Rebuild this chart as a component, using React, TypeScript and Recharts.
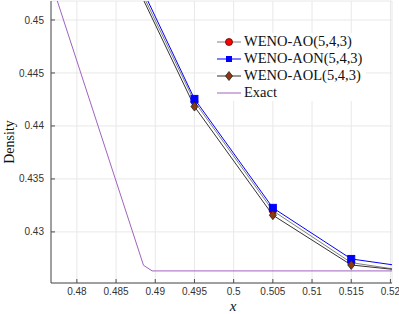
import { CartesianGrid, Line, LineChart, XAxis, YAxis } from "recharts";

// cell centres of the numerical schemes
const GRID_X = [0.485, 0.495, 0.505, 0.515, 0.525];
const AO = [0.4576, 0.4423, 0.432, 0.4271, 0.426];
const AON = [0.4581, 0.44255, 0.43227, 0.42745, 0.4264];
const AOL = [0.4573, 0.44183, 0.43158, 0.42688, 0.4261];

const EXACT_X = [0.4765, 0.4885, 0.4896, 0.525];
const EXACT = [0.45407, 0.42685, 0.42632, 0.42632];

const X_TICKS = [0.48, 0.485, 0.49, 0.495, 0.5, 0.505, 0.51, 0.515, 0.52];
const Y_TICKS = [0.43, 0.435, 0.44, 0.445, 0.45];
const X_DOMAIN = [0.4767, 0.5202];
const Y_DOMAIN = [0.42518, 0.45179];

const AXIS_COLOR = "#4d4d4d";
const TICK_TEXT = "#333";
const GRID = "#e8e8e8";
const SERIF = "'Liberation Serif', 'DejaVu Serif', serif";
const SANS = "'Liberation Sans', Arial, sans-serif";

const pts = (xs: number[], ys: number[]) => xs.map((x, i) => ({ x, y: ys[i] }));
const fmt = (v: number) => String(Number(v.toFixed(3)));

const BottomTick = (p: any) => (
  <g>
    <line x1={p.x} x2={p.x} y1={p.y} y2={p.y - 4} stroke={AXIS_COLOR} />
    <text x={p.x} y={p.y + 5} dy="0.71em" textAnchor="middle" fontSize={10} fill={TICK_TEXT} fontFamily={SANS}>
      {fmt(p.payload.value)}
    </text>
  </g>
);
const TopTick = (p: any) => <line x1={p.x} x2={p.x} y1={p.y} y2={p.y + 4} stroke={AXIS_COLOR} />;
const LeftTick = (p: any) => (
  <g>
    <line x1={p.x} x2={p.x + 4} y1={p.y} y2={p.y} stroke={AXIS_COLOR} />
    <text x={p.x - 7} y={p.y} dy="0.355em" textAnchor="end" fontSize={10} fill={TICK_TEXT} fontFamily={SANS}>
      {fmt(p.payload.value)}
    </text>
  </g>
);
const RightTick = (p: any) => <line x1={p.x} x2={p.x - 4} y1={p.y} y2={p.y} stroke={AXIS_COLOR} />;

const Square = (p: any) =>
  p.cx == null ? <g key={p.key} /> : (
    <rect key={`sq-${p.index}`} x={p.cx - 3.5} y={p.cy - 3.5} width={7} height={7} fill="#0000ff" stroke="#0000ff" />
  );
const Diamond = (p: any) =>
  p.cx == null ? <g key={p.key} /> : (
    <polygon
      key={`dm-${p.index}`}
      points={`${p.cx},${p.cy - 4.5} ${p.cx + 3.5},${p.cy} ${p.cx},${p.cy + 4.5} ${p.cx - 3.5},${p.cy}`}
      fill="#8b3a0f"
      stroke="#222"
      strokeWidth={0.8}
    />
  );

const LEGEND = [
  { name: "WENO-AO(5,4,3)", line: "#808080", marker: "circle" },
  { name: "WENO-AON(5,4,3)", line: "#0000ff", marker: "square" },
  { name: "WENO-AOL(5,4,3)", line: "#333", marker: "diamond" },
  { name: "Exact", line: "#a062c0", marker: "none" },
];

function LegendIcon({ line, marker }: { line: string; marker: string }) {
  return (
    <svg width={26} height={12} style={{ marginRight: 2, flex: "none" }}>
      <line x1={1} x2={25} y1={6} y2={6} stroke={line} strokeWidth={1} />
      {marker === "circle" && <circle cx={13} cy={6} r={3.5} fill="#ff0000" stroke="#5a0000" strokeWidth={0.8} />}
      {marker === "square" && <rect x={10} y={3} width={6} height={6} fill="#0000ff" />}
      {marker === "diamond" && <polygon points="13,1.5 16.5,6 13,10.5 9.5,6" fill="#8b3a0f" stroke="#222" strokeWidth={0.8} />}
    </svg>
  );
}

export default function App() {
  return (
    <div style={{ position: "absolute", left: 0, top: 0, width: 399, height: 314, background: "#fff" }}>
      <LineChart width={399} height={314} margin={{ top: 1, right: 7, bottom: 0, left: 0 }}>
        <CartesianGrid stroke={GRID} />
        <XAxis
          dataKey="x"
          type="number"
          domain={X_DOMAIN}
          ticks={X_TICKS}
          allowDataOverflow
          height={31}
          tickSize={0}
          tickMargin={0}
          tickLine={false}
          stroke={AXIS_COLOR}
          tick={BottomTick}
          interval={0}
        />
        <XAxis
          xAxisId="top"
          orientation="top"
          type="number"
          domain={X_DOMAIN}
          ticks={X_TICKS}
          allowDataOverflow
          height={0}
          tickSize={0}
          tickMargin={0}
          tickLine={false}
          stroke={AXIS_COLOR}
          tick={TopTick}
          interval={0}
        />
        <YAxis
          type="number"
          domain={Y_DOMAIN}
          ticks={Y_TICKS}
          allowDataOverflow
          width={51}
          tickSize={0}
          tickMargin={0}
          tickLine={false}
          stroke={AXIS_COLOR}
          tick={LeftTick}
          interval={0}
        />
        <YAxis
          yAxisId="right"
          orientation="right"
          type="number"
          domain={Y_DOMAIN}
          ticks={Y_TICKS}
          allowDataOverflow
          width={0}
          tickSize={0}
          tickMargin={0}
          tickLine={false}
          stroke={AXIS_COLOR}
          tick={RightTick}
          interval={0}
        />
        <Line
          data={pts(GRID_X, AO)}
          dataKey="y"
          stroke="#808080"
          strokeWidth={1}
          dot={{ r: 3.5, fill: "#ff0000", stroke: "#5a0000", strokeWidth: 0.8 }}
          isAnimationActive={false}
        />
        <Line data={pts(GRID_X, AON)} dataKey="y" stroke="#0000ff" strokeWidth={1} dot={Square} isAnimationActive={false} />
        <Line data={pts(GRID_X, AOL)} dataKey="y" stroke="#333" strokeWidth={1} dot={Diamond} isAnimationActive={false} />
        <Line data={pts(EXACT_X, EXACT)} dataKey="y" stroke="#a062c0" strokeWidth={1} dot={false} isAnimationActive={false} />
      </LineChart>

      <div
        style={{
          position: "absolute",
          left: 216,
          top: 33,
          padding: "0 4px 0 0",
          background: "#fff",
          fontFamily: SERIF,
          fontSize: 14.5,
          lineHeight: "17px",
          color: "#111",
        }}
      >
        {LEGEND.map((s) => (
          <div key={s.name} style={{ display: "flex", alignItems: "center", whiteSpace: "nowrap" }}>
            <LegendIcon line={s.line} marker={s.marker} />
            {s.name}
          </div>
        ))}
      </div>

      <div
        style={{
          position: "absolute",
          left: 10,
          top: 142,
          transform: "translate(-50%, -50%) rotate(-90deg)",
          fontFamily: SERIF,
          fontSize: 14,
          lineHeight: 1,
          color: "#111",
          whiteSpace: "nowrap",
        }}
      >
        Density
      </div>
      <div
        style={{
          position: "absolute",
          left: 233,
          top: 306,
          transform: "translate(-50%, -50%)",
          fontFamily: SERIF,
          fontStyle: "italic",
          fontSize: 15,
          lineHeight: 1,
          color: "#111",
        }}
      >
        x
      </div>
    </div>
  );
}
